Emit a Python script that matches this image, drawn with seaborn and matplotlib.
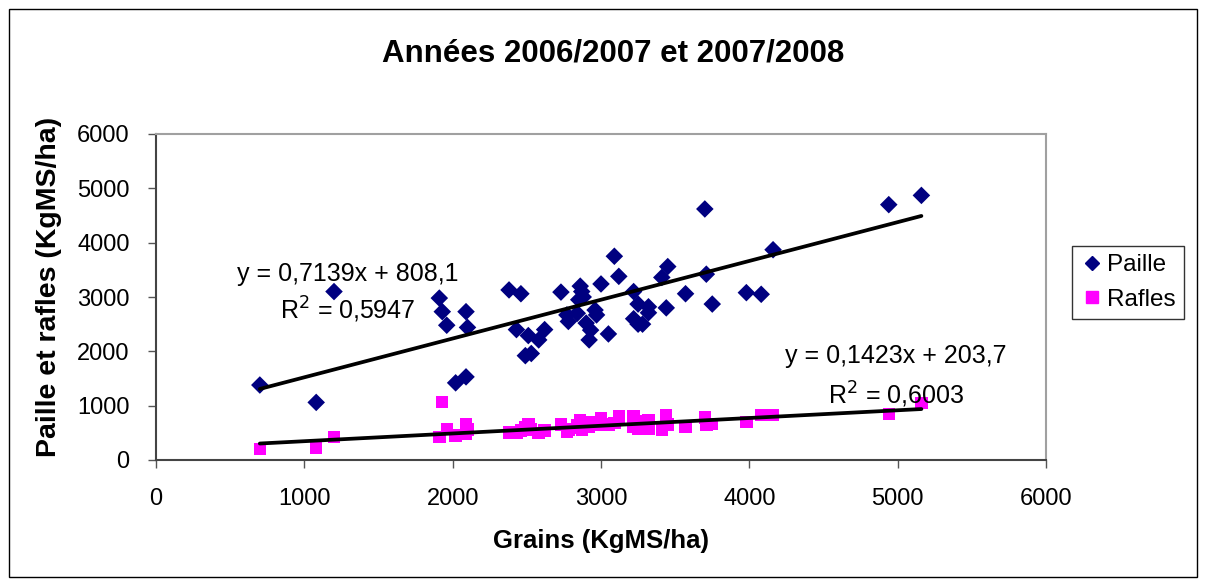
import numpy as np
import pandas as pd
import matplotlib
matplotlib.use("Agg")
import matplotlib.pyplot as plt
import seaborn as sns
from matplotlib.patches import Rectangle
from matplotlib.lines import Line2D

# ---------------- data ----------------
grains = [700, 1080, 1200, 1910, 1930, 1960, 2020, 2090, 2090, 2100,
          2380, 2430, 2460, 2490, 2510, 2530, 2580, 2620, 2730, 2770,
          2780, 2840, 2850, 2860, 2870, 2880, 2900, 2920, 2930, 2960,
          2970, 3000, 3050, 3090, 3120, 3220, 3220, 3250, 3250, 3280,
          3320, 3320, 3410, 3440, 3450, 3570, 3700, 3710, 3750, 3980,
          4080, 4160, 4940, 5160]
paille = [1380, 1060, 3100, 2980, 2730, 2480, 1420, 1530, 2730, 2440,
          3130, 2400, 3060, 1920, 2290, 1960, 2210, 2400, 3090, 2670,
          2550, 2700, 2950, 3200, 3100, 3000, 2520, 2210, 2390, 2760,
          2670, 3240, 2320, 3750, 3380, 3100, 2600, 2500, 2870, 2500,
          2820, 2710, 3360, 2800, 3560, 3060, 4620, 3420, 2870, 3080,
          3050, 3870, 4700, 4870]
rafles = [200, 230, 420, 420, 1070, 570, 450, 650, 480, 560,
          510, 500, 540, 600, 650, 560, 500, 540, 650, 520,
          560, 640, 600, 740, 560, 660, 700, 620, 680, 700,
          650, 770, 650, 680, 800, 620, 800, 580, 720, 650,
          740, 580, 560, 830, 650, 620, 780, 650, 660, 700,
          830, 830, 850, 1050]

series_names = ["Paille", "Rafles"]
series_colors = ["#000080", "#FF00FF"]
# linear trendlines as displayed on the chart
slopes = [0.7139, 0.1423]
intercepts = [808.1, 203.7]
r2_values = [0.5947, 0.6003]

title = "Années 2006/2007 et 2007/2008"
xlabel = "Grains (KgMS/ha)"
ylabel = "Paille et rafles (KgMS/ha)"
ticks = [0, 1000, 2000, 3000, 4000, 5000, 6000]

df = pd.DataFrame({
    "Grains": grains * 2,
    "Valeur": paille + rafles,
    "Serie": [series_names[0]] * len(grains) + [series_names[1]] * len(grains),
})

# ---------------- figure ----------------
sns.set_theme(style="white")
plt.rcParams["font.family"] = ["Liberation Sans", "DejaVu Sans"]
plt.rcParams["text.color"] = "black"
plt.rcParams["axes.labelcolor"] = "black"
plt.rcParams["xtick.color"] = "black"
plt.rcParams["ytick.color"] = "black"

W, H = 1205, 583
fig = plt.figure(figsize=(W / 100, H / 100), dpi=100)
fig.patch.set_facecolor("white")

# outer chart border
fig.patches.append(Rectangle((9 / W, 1 - 577 / H), (1197 - 9) / W, (577 - 9) / H,
                             transform=fig.transFigure, fill=False,
                             edgecolor="#000000", linewidth=1.0))

ax = fig.add_axes([156 / W, 1 - 460 / H, (1046 - 156) / W, (460 - 134) / H])

palette = dict(zip(series_names, series_colors))
sns.scatterplot(data=df, x="Grains", y="Valeur", hue="Serie", style="Serie",
                markers={"Paille": "D", "Rafles": "s"}, palette=palette,
                s=80, linewidth=0, ax=ax, legend=False, zorder=3)

# trendlines over the data range
xr = [min(grains), max(grains)]
for a, b in zip(slopes, intercepts):
    line_df = pd.DataFrame({"x": xr, "y": [a * v + b for v in xr]})
    sns.lineplot(data=line_df, x="x", y="y", color="black", linewidth=2.7,
                 ax=ax, zorder=4)

ax.set_xlim(0, 6000)
ax.set_ylim(0, 6000)
ax.set_xticks(ticks)
ax.set_yticks(ticks)
ax.tick_params(axis="both", which="major", direction="out", length=6,
               width=1, color="#555555", labelcolor="black", labelsize=17,
               left=True, bottom=True)
ax.tick_params(axis="y", pad=13)
ax.tick_params(axis="x", pad=14)

for side in ["left", "bottom"]:
    ax.spines[side].set_color("#444444")
    ax.spines[side].set_linewidth(1.5)
for side in ["top", "right"]:
    ax.spines[side].set_visible(True)
    ax.spines[side].set_color("#A0A0A0")
    ax.spines[side].set_linewidth(1.5)

ax.set_xlabel(xlabel, fontsize=18.5, fontweight="bold", labelpad=14)
ax.set_ylabel(ylabel, fontsize=20.5, fontweight="bold")
ax.yaxis.set_label_coords((62 - 156) / (1046 - 156), (460 - 287) / (460 - 134))
fig.text(613 / W, 1 - 53 / H, title, fontsize=22.5, fontweight="bold",
         ha="center", va="center")


def fmt(v, nd):
    return f"{v:.{nd}f}".replace(".", ",")


# equation labels (data coordinates)
eq_pos = [(1290, 3420, 2760), (4990, 1910, 1200)]
for (ex, ey1, ey2), a, b, r2 in zip(eq_pos, slopes, intercepts, r2_values):
    ax.text(ex, ey1, f"y = {fmt(a, 4)}x + {fmt(b, 1)}", fontsize=18,
            ha="center", va="center")
    ax.text(ex, ey2, "R$^2$ = " + fmt(r2, 4), fontsize=18,
            ha="center", va="center")

handles = [Line2D([], [], marker="D", color=series_colors[0], linestyle="none", markersize=7),
           Line2D([], [], marker="s", color=series_colors[1], linestyle="none", markersize=8)]
leg = fig.legend(handles, series_names, loc="center",
                 bbox_to_anchor=((1072 + 1184) / 2 / W, 1 - (245 + 320) / 2 / H),
                 fontsize=17.5, frameon=True, fancybox=False, handletextpad=0.1,
                 handlelength=1.0, borderpad=0.35, labelspacing=0.5,
                 borderaxespad=0)
leg.get_frame().set_edgecolor("black")
leg.get_frame().set_linewidth(1.0)

fig.savefig("out.png", dpi=100, facecolor="white")
